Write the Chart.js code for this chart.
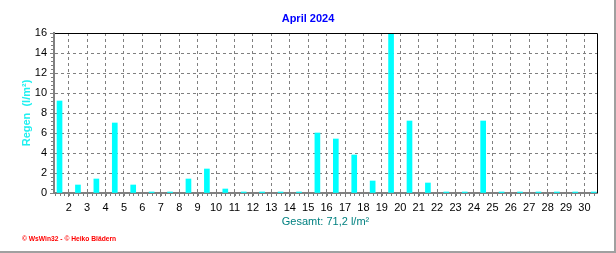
<!DOCTYPE html>
<html>
<head>
<meta charset="utf-8">
<script src="https://cdn.jsdelivr.net/npm/chart.js@4.4.1/dist/chart.umd.min.js"></script>
<style>
  html, body { margin: 0; padding: 0; background: #fff; }
</style>
</head>
<body>
<canvas id="rainChart" width="616" height="253"></canvas>
<script>
// daily rain, April 2024 (l/m²)
const days = [1, 2, 3, 4, 5, 6, 7, 8, 9, 10, 11, 12, 13, 14, 15, 16, 17, 18, 19, 20, 21, 22, 23, 24, 25, 26, 27, 28, 29, 30];
const rain = [9.2, 0.8, 1.4, 7.0, 0.8, 0, 0, 1.4, 2.4, 0.4, 0, 0, 0, 0, 6.0, 5.4, 3.8, 1.2, 16.0, 7.2, 1.0, 0, 0, 7.2, 0, 0, 0, 0, 0, 0];
const dayTicks = [2, 3, 4, 5, 6, 7, 8, 9, 10, 11, 12, 13, 14, 15, 16, 17, 18, 19, 20, 21, 22, 23, 24, 25, 26, 27, 28, 29, 30];
const rainTicks = [0, 2, 4, 6, 8, 10, 12, 14, 16];

const chartTitle = 'April 2024';
const yTitle = 'Regen  (l/m²)';
const totalText = 'Gesamt: 71,2 l/m²';
const footerText = '© WsWin32 - © Heiko Blädern';

const FONT = '"Liberation Sans", Arial, sans-serif';
Chart.defaults.font.family = FONT;

// frame, small ticks, title and footer
const decor = {
    id: 'decor',
    afterDraw(chart) {
        const { ctx, chartArea: a, scales: { x, y } } = chart;
        ctx.save();

        ctx.strokeStyle = '#000';
        ctx.lineWidth = 1;
        ctx.beginPath();
        ctx.moveTo(a.left + 1, a.top + 0.5);
        ctx.lineTo(a.right + 0.5, a.top + 0.5);
        ctx.lineTo(a.right + 0.5, a.bottom);
        ctx.stroke();

        // minor ticks
        ctx.strokeStyle = '#808080';
        ctx.beginPath();
        for (let v = 0; v < y.max; v += 0.4) {
            const py = Math.round(y.getPixelForValue(v)) + 0.5;
            ctx.moveTo(a.left - 3, py);
            ctx.lineTo(a.left - 1, py);
        }
        for (let v = Math.ceil(x.min * 4) / 4; v <= x.max; v += 0.25) {
            const px = Math.round(x.getPixelForValue(v)) + 0.5;
            ctx.moveTo(px, a.bottom + 1);
            ctx.lineTo(px, a.bottom + 3);
        }
        ctx.stroke();

        ctx.textAlign = 'center';
        ctx.textBaseline = 'middle';
        ctx.fillStyle = '#0000ff';
        ctx.font = 'bold 11px ' + FONT;
        ctx.fillText(chartTitle, chart.width / 2, 19);

        ctx.textAlign = 'left';
        ctx.fillStyle = '#ff0000';
        ctx.font = 'bold 6.7px ' + FONT;
        ctx.fillText(footerText, 22, 239);

        ctx.fillStyle = '#a0a0a0';
        ctx.fillRect(chart.width - 2, 0, 2, chart.height);
        ctx.fillRect(0, chart.height - 2, chart.width, 2);
        ctx.restore();
    }
};

new Chart(document.getElementById('rainChart'), {
    type: 'bar',
    data: {
        datasets: [{
            label: 'Regen',
            data: days.map((d, i) => ({ x: d + 0.5, y: rain[i] })),
            backgroundColor: '#00ffff',
            borderWidth: 0,
            barThickness: 5,
            minBarLength: 1
        }]
    },
    options: {
        responsive: false,
        animation: false,
        devicePixelRatio: 1,
        layout: { padding: { top: 33, right: 19, bottom: 0, left: 0 } },
        plugins: {
            legend: { display: false },
            tooltip: { enabled: false }
        },
        scales: {
            x: {
                type: 'linear',
                min: 1.2,
                max: 30.68,
                offset: false,
                afterBuildTicks: s => { s.ticks = dayTicks.map(v => ({ value: v })); },
                afterFit: s => { s.height = 60; },
                ticks: { color: '#000', font: { size: 11 }, padding: 4, maxRotation: 0, autoSkip: false },
                grid: { color: '#808080', offset: false, tickColor: '#808080', tickLength: 4 },
                border: { color: '#808080', width: 2, dash: [3, 3] },
                title: {
                    display: true,
                    text: totalText,
                    color: '#008080',
                    font: { size: 11 },
                    padding: { top: 24, bottom: 24 }
                }
            },
            y: {
                min: 0,
                max: 16,
                afterBuildTicks: s => { s.ticks = rainTicks.map(v => ({ value: v })); },
                afterFit: s => { s.width = 54; },
                ticks: { color: '#000', font: { size: 11 }, padding: 3 },
                grid: { color: '#808080', tickColor: '#808080', tickLength: 4 },
                border: { color: '#808080', width: 2, dash: [3, 3] },
                title: {
                    display: true,
                    text: yTitle,
                    color: '#20f0f0',
                    font: { size: 11, weight: 'bold' },
                    padding: { top: 20, bottom: 0 }
                }
            }
        }
    },
    plugins: [decor]
});
</script>
</body>
</html>
